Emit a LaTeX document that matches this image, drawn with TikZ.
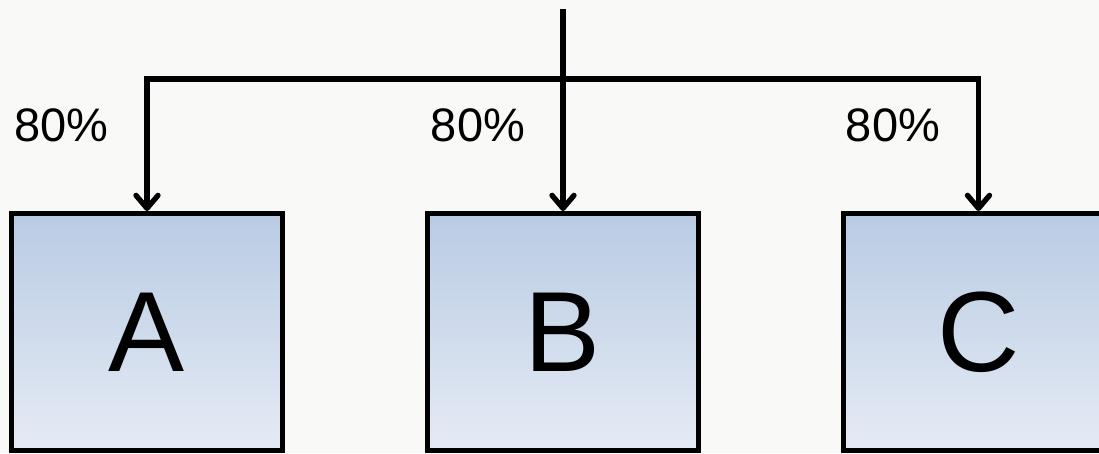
\documentclass[tikz,border=0pt]{standalone}
\usepackage{fontspec}
\setmainfont{Liberation Sans}
\usetikzlibrary{arrows.meta}
\definecolor{bg}{RGB}{249,249,247}
\definecolor{boxtop}{RGB}{185,203,227}
\definecolor{boxbot}{RGB}{229,235,245}
\tikzset{
  box/.style={draw=black, line width=5pt, top color=boxtop, bottom color=boxbot,
    minimum width=270.5pt, minimum height=237pt, inner sep=0pt,
    font=\fontsize{114}{114}\selectfont},
  pct/.style={inner sep=0pt, font=\fontsize{47}{47}\selectfont},
  conn/.style={line width=5.3pt, -{Straight Barb[length=13pt,width=22pt,line cap=round,line join=round]}}
}
\begin{document}
\begin{tikzpicture}[x=1pt,y=-1pt]
\useasboundingbox (0,0) rectangle (1099,453);
\fill[bg] (0,0) rectangle (1099,453);
\clip (0,0) rectangle (1099,453);
\node[box] (A) at (147,332) {A};
\node[box] (B) at (563,332) {B};
\node[box] (C) at (978.5,332) {C};
\node[pct] (l1) at (61.5,125) {80\%};
\node[pct] (l2) at (478,125) {80\%};
\node[pct] (l3) at (893,125) {80\%};
\coordinate (top) at (563,9);
\coordinate (bar) at (563,79);
\draw[conn] (top) -- (B.north);
\draw[conn] (bar) -| (A.north);
\draw[conn] (bar) -| (C.north);
\end{tikzpicture}
\end{document}
